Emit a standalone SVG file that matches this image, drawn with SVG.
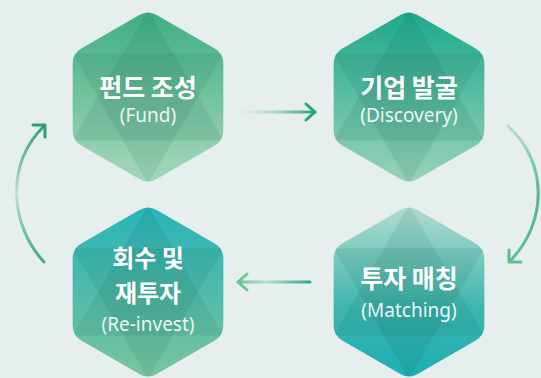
<svg xmlns="http://www.w3.org/2000/svg" width="541" height="378" viewBox="0 0 541 378">
  <defs>
    <path id="hex" d="M8.66,-82 L66.68,-48.5 Q75.34,-43.5 75.34,-33.5 L75.34,33.5 Q75.34,43.5 66.68,48.5 L8.66,82 Q0,87 -8.66,82 L-66.68,48.5 Q-75.34,43.5 -75.34,33.5 L-75.34,-33.5 Q-75.34,-43.5 -66.68,-48.5 L-8.66,-82 Q0,-87 8.66,-82 Z"/>
    <clipPath id="hexClip"><use href="#hex"/></clipPath>
    <linearGradient id="gFund" x1="0" y1="0" x2="0" y2="1">
      <stop offset="0" stop-color="#3fae84"/>
      <stop offset="1" stop-color="#a6d7bb"/>
    </linearGradient>
    <linearGradient id="gDisc" x1="0" y1="0" x2="0" y2="1">
      <stop offset="0" stop-color="#1ea98c"/>
      <stop offset="1" stop-color="#98d2b9"/>
    </linearGradient>
    <linearGradient id="gRe" x1="0" y1="0" x2="0" y2="1">
      <stop offset="0" stop-color="#28b3b9"/>
      <stop offset="1" stop-color="#7ac49d"/>
    </linearGradient>
    <linearGradient id="gMat" x1="0" y1="0" x2="0" y2="1">
      <stop offset="0" stop-color="#b0dccd"/>
      <stop offset="0.6" stop-color="#3db5b0"/>
      <stop offset="1" stop-color="#1caeb2"/>
    </linearGradient>
    <linearGradient id="aTop" gradientUnits="userSpaceOnUse" x1="243" y1="0" x2="316" y2="0">
      <stop offset="0" stop-color="#d6ecdd" stop-opacity="0.4"/>
      <stop offset="0.5" stop-color="#9fd4b5"/>
      <stop offset="1" stop-color="#2a9f7c"/>
    </linearGradient>
    <linearGradient id="aBot" gradientUnits="userSpaceOnUse" x1="237" y1="0" x2="310" y2="0">
      <stop offset="0" stop-color="#6cc397"/>
      <stop offset="0.4" stop-color="#b8e0c6"/>
      <stop offset="1" stop-color="#2ea49a"/>
    </linearGradient>
    <linearGradient id="aLeft" gradientUnits="userSpaceOnUse" x1="0" y1="262" x2="0" y2="125">
      <stop offset="0" stop-color="#3aa985"/>
      <stop offset="0.5" stop-color="#bfe2cc"/>
      <stop offset="1" stop-color="#2c9f7b"/>
    </linearGradient>
    <linearGradient id="aRight" gradientUnits="userSpaceOnUse" x1="0" y1="125" x2="0" y2="262">
      <stop offset="0" stop-color="#b9e0c9"/>
      <stop offset="0.5" stop-color="#4db893"/>
      <stop offset="1" stop-color="#5fbf8f"/>
    </linearGradient>
  </defs>
  <style>
    .star { fill: #0b5c45; fill-opacity: 0.1; }
    .ko { font-family: "Noto Sans CJK KR", "Noto Sans", sans-serif; font-weight: 700; font-size: 25px; fill: #ffffff; text-anchor: middle; }
    .ko2 { font-size: 24px; }
    .en { font-family: "Noto Sans", "Noto Sans CJK KR", sans-serif; font-size: 19px; fill: #ffffff; fill-opacity: 0.92; text-anchor: middle; }
    .arr { fill: none; stroke-width: 3; stroke-linecap: round; stroke-linejoin: round; }
  </style>
  <rect width="541" height="378" fill="#e6efed"/>

  <g id="node-fund" transform="translate(148,97)">
    <use href="#hex" fill="url(#gFund)"/>
    <g clip-path="url(#hexClip)">
      <polygon class="star" points="0,-87 75.34,43.5 -75.34,43.5"/>
      <polygon class="star" points="0,87 -75.34,-43.5 75.34,-43.5"/>
    </g>
    <text class="ko" x="0" y="0">펀드 조성</text>
    <text class="en" x="0" y="25">(Fund)</text>
  </g>

  <g id="node-discovery" transform="translate(409,97)">
    <use href="#hex" fill="url(#gDisc)"/>
    <g clip-path="url(#hexClip)">
      <polygon class="star" points="0,-87 75.34,43.5 -75.34,43.5"/>
      <polygon class="star" points="0,87 -75.34,-43.5 75.34,-43.5"/>
    </g>
    <text class="ko" x="0" y="0">기업 발굴</text>
    <text class="en" x="0" y="25">(Discovery)</text>
  </g>

  <g id="node-matching" transform="translate(409,292)">
    <use href="#hex" fill="url(#gMat)"/>
    <g clip-path="url(#hexClip)">
      <polygon class="star" points="0,-87 75.34,43.5 -75.34,43.5"/>
      <polygon class="star" points="0,87 -75.34,-43.5 75.34,-43.5"/>
    </g>
    <text class="ko" x="0" y="-4">투자 매칭</text>
    <text class="en" x="0" y="25">(Matching)</text>
  </g>

  <g id="node-reinvest" transform="translate(148,292)">
    <use href="#hex" fill="url(#gRe)"/>
    <g clip-path="url(#hexClip)">
      <polygon class="star" points="0,-87 75.34,43.5 -75.34,43.5"/>
      <polygon class="star" points="0,87 -75.34,-43.5 75.34,-43.5"/>
    </g>
    <text class="ko ko2" x="0" y="-25">회수 및</text>
    <text class="ko ko2" x="0" y="10">재투자</text>
    <text class="en" x="0" y="39">(Re-invest)</text>
  </g>

  <g id="connectors">
    <path class="arr" stroke="url(#aTop)" d="M243,112 L315,112"/>
    <path class="arr" stroke="#2a9f7c" d="M306,104 L315,112 L306,120"/>
    <path class="arr" stroke="url(#aRight)" d="M508,126 C548,162 548,222 510,261"/>
    <path class="arr" stroke="#5fbf8f" d="M509,250 L509,262 L521,262"/>
    <path class="arr" stroke="url(#aBot)" d="M238,282 L310,282"/>
    <path class="arr" stroke="#6cc397" d="M247,274 L238,282 L247,290"/>
    <path class="arr" stroke="url(#aLeft)" d="M44,262 C10,225 5,165 44,126"/>
    <path class="arr" stroke="#2c9f7b" d="M33,125 L45,125 L45,137"/>
  </g>
</svg>
